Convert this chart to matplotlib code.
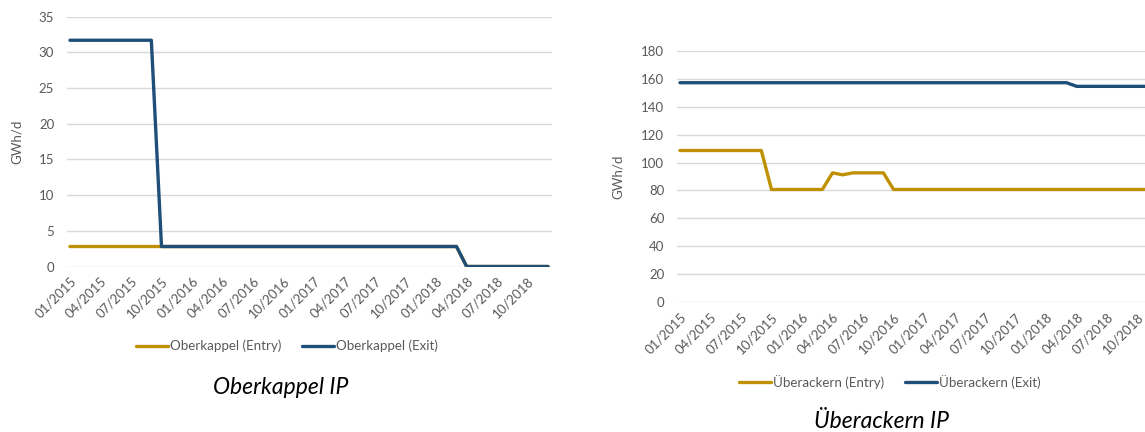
import matplotlib
matplotlib.use('Agg')
import matplotlib.pyplot as plt

plt.rcParams['font.family'] = ['Lato', 'DejaVu Sans']

GOLD = '#BF9000'
NAVY = '#1F4E79'
GREY_TXT = '#595959'
GRID = '#D9D9D9'
W, H = 1145, 432

# monthly values, 01/2015 .. 12/2018 (one row per year)
oberkappel_entry = [
    2.8, 2.8, 2.8, 2.8, 2.8, 2.8, 2.8, 2.8, 2.8, 2.8, 2.8, 2.8,
    2.8, 2.8, 2.8, 2.8, 2.8, 2.8, 2.8, 2.8, 2.8, 2.8, 2.8, 2.8,
    2.8, 2.8, 2.8, 2.8, 2.8, 2.8, 2.8, 2.8, 2.8, 2.8, 2.8, 2.8,
    2.8, 2.8, 2.8, 0.0, 0.0, 0.0, 0.0, 0.0, 0.0, 0.0, 0.0, 0.0,
]
oberkappel_exit = [
    31.7, 31.7, 31.7, 31.7, 31.7, 31.7, 31.7, 31.7, 31.7, 2.8, 2.8, 2.8,
    2.8, 2.8, 2.8, 2.8, 2.8, 2.8, 2.8, 2.8, 2.8, 2.8, 2.8, 2.8,
    2.8, 2.8, 2.8, 2.8, 2.8, 2.8, 2.8, 2.8, 2.8, 2.8, 2.8, 2.8,
    2.8, 2.8, 2.8, 0.0, 0.0, 0.0, 0.0, 0.0, 0.0, 0.0, 0.0, 0.0,
]
ueberackern_entry = [
    108.6, 108.6, 108.6, 108.6, 108.6, 108.6, 108.6, 108.6, 108.6, 80.7, 80.7, 80.7,
    80.7, 80.7, 80.7, 92.6, 91.2, 92.6, 92.6, 92.6, 92.6, 80.7, 80.7, 80.7,
    80.7, 80.7, 80.7, 80.7, 80.7, 80.7, 80.7, 80.7, 80.7, 80.7, 80.7, 80.7,
    80.7, 80.7, 80.7, 80.7, 80.7, 80.7, 80.7, 80.7, 80.7, 80.7, 80.7, 80.7,
]
ueberackern_exit = [
    157.1, 157.1, 157.1, 157.1, 157.1, 157.1, 157.1, 157.1, 157.1, 157.1, 157.1, 157.1,
    157.1, 157.1, 157.1, 157.1, 157.1, 157.1, 157.1, 157.1, 157.1, 157.1, 157.1, 157.1,
    157.1, 157.1, 157.1, 157.1, 157.1, 157.1, 157.1, 157.1, 157.1, 157.1, 157.1, 157.1,
    157.1, 157.1, 157.1, 154.5, 154.5, 154.5, 154.5, 154.5, 154.5, 154.5, 154.5, 154.5,
]

tick_labels = ['01/2015', '04/2015', '07/2015', '10/2015',
               '01/2016', '04/2016', '07/2016', '10/2016',
               '01/2017', '04/2017', '07/2017', '10/2017',
               '01/2018', '04/2018', '07/2018', '10/2018']

months = list(range(len(oberkappel_entry)))


def px_axes(fig, x0, y0, x1, y1):
    """Axes placed by pixel box (top-left origin)."""
    return fig.add_axes([x0 / W, 1 - y1 / H, (x1 - x0) / W, (y1 - y0) / H])


def style_axes(ax, ymax, ystep):
    for s in ax.spines.values():
        s.set_visible(False)
    ax.set_xlim(-0.32, len(months) - 1 + 0.39)
    ax.set_ylim(0, ymax)
    ax.set_yticks(range(0, ymax + 1, ystep))
    ax.set_xticks(months[::3])
    ax.set_xticklabels(tick_labels, rotation=45, ha='right', rotation_mode='anchor')
    ax.tick_params(length=0, colors=GREY_TXT, labelsize=9.5)
    ax.tick_params(axis='x', pad=6)
    ax.tick_params(axis='y', pad=9)
    ax.yaxis.grid(True, color=GRID, linewidth=1)
    ax.set_axisbelow(True)
    ax.set_ylabel('GWh/d', color=GREY_TXT, fontsize=9.5)


def draw(ax, entry, exit_, name):
    ax.plot(months, entry, color=GOLD, lw=2.4, label=f'{name} (Entry)',
            solid_capstyle='round', solid_joinstyle='round')
    ax.plot(months, exit_, color=NAVY, lw=2.4, label=f'{name} (Exit)',
            solid_capstyle='round', solid_joinstyle='round')


def add_legend(ax, fig, cx, cy):
    ax.legend(loc='center', bbox_to_anchor=(cx / W, 1 - cy / H),
              bbox_transform=fig.transFigure, ncol=2, frameon=False,
              fontsize=9.6, labelcolor=GREY_TXT, handlelength=2.4,
              handletextpad=0.15, columnspacing=1.6,
              borderpad=0, borderaxespad=0)


fig = plt.figure(figsize=(W / 100, H / 100), dpi=100)

# Oberkappel
ax1 = px_axes(fig, 66.7, 16.7, 552, 266.5)
draw(ax1, oberkappel_entry, oberkappel_exit, 'Oberkappel')
style_axes(ax1, 35, 5)
ax1.yaxis.set_label_coords((23 - 66.7) / 485.3, 0.5)
add_legend(ax1, fig, 287, 346)
fig.text(281 / W, 1 - 388 / H, 'Oberkappel IP', ha='center', va='center',
         fontsize=16.5, style='italic', color='black')

# Überackern (chart runs past the right edge)
ax2 = px_axes(fig, 676.7, 50.7, 1162, 302.3)
draw(ax2, ueberackern_entry, ueberackern_exit, 'Überackern')
style_axes(ax2, 180, 20)
ax2.yaxis.set_label_coords((624 - 676.7) / 485.3, 0.5)
add_legend(ax2, fig, 890, 382)
fig.text(882 / W, 1 - 421 / H, 'Überackern IP', ha='center', va='center',
         fontsize=16.5, style='italic', color='black')

fig.savefig('out.png', dpi=100)
